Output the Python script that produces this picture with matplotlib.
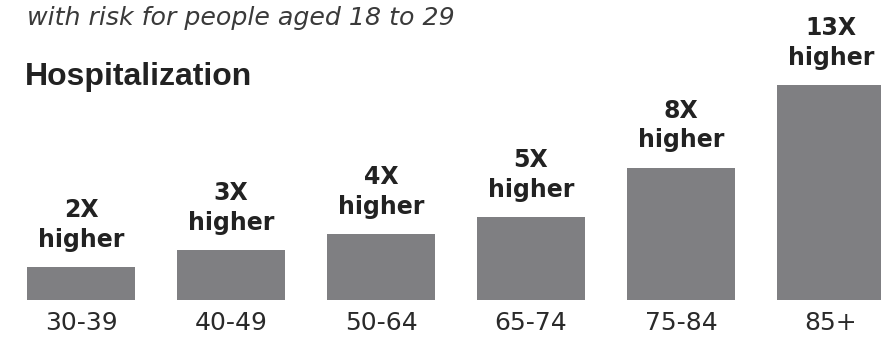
import matplotlib.pyplot as plt

edades = ["30-39", "40-49", "50-64", "65-74", "75-84", "85+"]
riesgo = [2, 3, 4, 5, 8, 13]
etiquetas = ["2X\nhigher", "3X\nhigher", "4X\nhigher", "5X\nhigher", "8X\nhigher", "13X\nhigher"]

plt.rcParams['font.family'] = ['DejaVu Sans']

fig = plt.figure(figsize=(8.81, 3.37), dpi=100)
fig.patch.set_facecolor("white")

# eje ocupa todo el ancho, fondo de barras en y=300px
ax = fig.add_axes([0, 37/337, 1, 300/337])
x = list(range(len(edades)))
ax.bar(x, riesgo, width=0.72, color="#7f7f82")

for i in x:
    ax.annotate(etiquetas[i], (i, riesgo[i]), xytext=(0, 11), textcoords="offset points",
                ha="center", va="bottom", fontsize=17, fontweight="bold",
                color="#222222", linespacing=1.3)

ax.set_xlim(-0.54, 5.333)
ax.set_ylim(0, 18.13)
ax.set_xticks(x)
ax.set_xticklabels(edades, fontsize=18, color="#2a2a2a")
ax.tick_params(axis='x', length=0, pad=8)
ax.tick_params(axis='y', left=False, labelleft=False)
for s in ax.spines.values():
    s.set_visible(False)
ax.patch.set_alpha(0)

fig.text(27/881, 1 - 25/337, "with risk for people aged 18 to 29", fontsize=18.2,
         style="italic", color="#3a3a3a", ha="left", va="baseline")
fig.text(25/881, 1 - 85/337, "Hospitalization", fontsize=23, fontweight="bold",
         family="Liberation Sans", color="#222222", ha="left", va="baseline")

fig.savefig("out.png", dpi=100)
